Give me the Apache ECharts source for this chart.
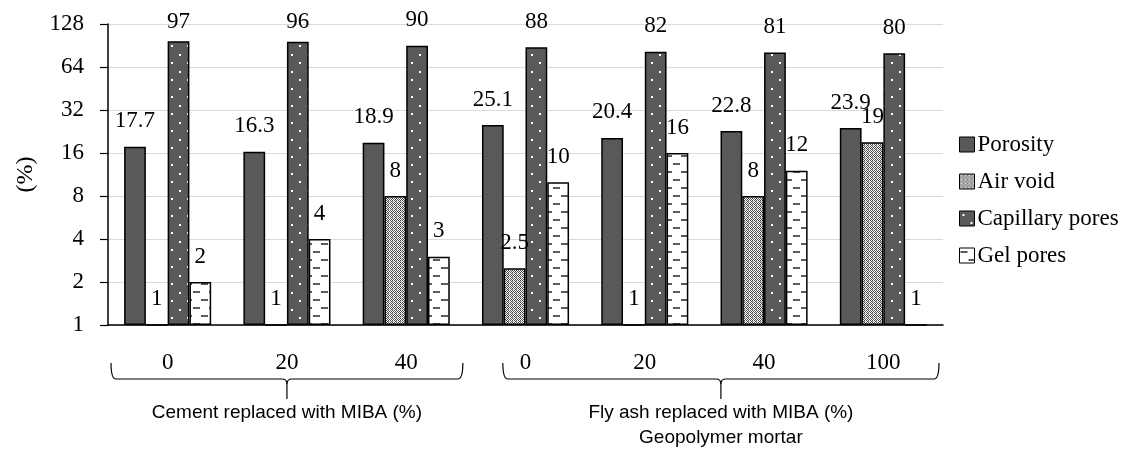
<!DOCTYPE html>
<html>
<head>
<meta charset="utf-8">
<script src="https://cdn.jsdelivr.net/npm/echarts@6/dist/echarts.min.js"></script>
<style>
  html, body { margin: 0; padding: 0; background: #fff; }
  #chart { width: 1146px; height: 450px; }
</style>
</head>
<body>
<div id="chart"></div>
<script>
// category labels (MIBA replacement %)
var categories = ['0', '20', '40', '0', '20', '40', '100']
var seriesNames = ['Porosity', 'Air void', 'Capillary pores', 'Gel pores']
var porosity = [17.7, 16.3, 18.9, 25.1, 20.4, 22.8, 23.9]
var airVoid = [1, 1, 8, 2.5, 1, 8, 19]
var capillary = [97, 96, 90, 88, 82, 81, 80]
var gelPores = [2, 4, 3, 10, 16, 12, 1]
var groupTitles = ['Cement replaced with MIBA (%)', 'Fly ash replaced with MIBA (%)', 'Geopolymer mortar']

var SERIF = '"Liberation Serif", "DejaVu Serif", serif'
var SANS = '"Liberation Sans", "Open Sans", sans-serif'
var DARK = '#595959'

// small tiled canvases for the hatch fills
function pattern(w, h, bg, draw) {
  var c = document.createElement('canvas')
  c.width = w
  c.height = h
  var ctx = c.getContext('2d')
  ctx.fillStyle = bg
  ctx.fillRect(0, 0, w, h)
  draw(ctx)
  return { image: c, repeat: 'repeat' }
}

var airFill = pattern(4, 4, '#ffffff', function (ctx) {
  ctx.fillStyle = '#4a4a4a'
  for (var y = 0; y < 4; y++) {
    for (var x = 0; x < 4; x++) {
      if ((x + y) % 2 === 0 && !(x === 1 && y === 1)) ctx.fillRect(x, y, 1, 1)
    }
  }
  ctx.fillStyle = '#b0b0b0'
  ctx.fillRect(1, 1, 1, 1)
  ctx.fillRect(0, 1, 1, 1)
})

var capFill = pattern(16, 17, DARK, function (ctx) {
  ctx.fillStyle = '#ffffff'
  ctx.fillRect(3, 3, 2, 2)
  ctx.fillRect(11, 11, 2, 2)
})

var gelFill = pattern(16, 16, '#ffffff', function (ctx) {
  ctx.fillStyle = '#5a5a5a'
  ctx.fillRect(1, 3, 7, 2)
  ctx.fillRect(9, 11, 7, 2)
})

function bar(name, values, fill) {
  return {
    name: name,
    type: 'bar',
    barGap: '0%',
    barCategoryGap: '27%',
    data: values.map(function (v) {
      // Excel pushes labels of the tallest bars down to stay inside the chart
      return { value: v, label: { distance: v >= 95 ? 8 : 14 } }
    }),
    itemStyle: { color: fill, borderColor: '#000', borderWidth: 1.5 },
    label: {
      show: true,
      position: 'top',
      color: '#000',
      fontFamily: SERIF,
      fontSize: 23
    }
  }
}

var chartDom = document.getElementById('chart')
var myChart = echarts.init(chartDom)
var option = {
  animation: false,
  grid: { left: 108, right: 203, top: 24, bottom: 125, containLabel: false, outerBoundsMode: 'none' },
  legend: {
    orient: 'vertical',
    left: 954,
    top: 128,
    itemWidth: 15,
    itemHeight: 15,
    itemGap: 14,
    icon: 'rect',
    data: seriesNames,
    itemStyle: { borderColor: '#000', borderWidth: 1 },
    textStyle: { color: '#000', fontFamily: SERIF, fontSize: 23, padding: [0, 0, 0, -2] }
  },
  xAxis: {
    type: 'category',
    data: categories,
    axisLine: { lineStyle: { color: '#000', width: 1.5 } },
    axisTick: { length: 8, lineStyle: { color: '#000', width: 1.2 } },
    axisLabel: { color: '#000', fontFamily: SERIF, fontSize: 23, margin: 26 }
  },
  yAxis: {
    type: 'log',
    logBase: 2,
    min: 1,
    max: 128,
    name: '(%)',
    nameLocation: 'middle',
    nameRotate: 90,
    nameGap: 70,
    nameTextStyle: { color: '#000', fontFamily: SERIF, fontSize: 24 },
    axisLine: { show: true, lineStyle: { color: '#000', width: 1.5 } },
    axisTick: { show: true, length: 8, lineStyle: { color: '#000', width: 1.2 } },
    axisLabel: { color: '#000', fontFamily: SERIF, fontSize: 23, margin: 24 },
    splitLine: { lineStyle: { color: '#d9d9d9', width: 1.2 } }
  },
  series: [
    bar(seriesNames[0], porosity, DARK),
    bar(seriesNames[1], airVoid, airFill),
    bar(seriesNames[2], capillary, capFill),
    bar(seriesNames[3], gelPores, gelFill)
  ]
}
myChart.setOption(option)

// curly braces under the two groups of categories
function px(i) { return myChart.convertToPixel({ xAxisIndex: 0 }, i) }
var step = px(1) - px(0)
var y0 = 363, y1 = 379, y2 = 399, r = 5
function brace(xa, xb) {
  var xm = (xa + xb) / 2
  var st = { stroke: '#000', lineWidth: 1.2, fill: null }
  return [
    { type: 'bezierCurve', shape: { x1: xa, y1: y0, x2: xa + r, y2: y1, cpx1: xa, cpy1: y1 }, style: st },
    { type: 'line', shape: { x1: xa + r, y1: y1, x2: xm - r, y2: y1 }, style: st },
    { type: 'bezierCurve', shape: { x1: xm - r, y1: y1, x2: xm, y2: y1 + r, cpx1: xm, cpy1: y1 }, style: st },
    { type: 'bezierCurve', shape: { x1: xm + r, y1: y1, x2: xm, y2: y1 + r, cpx1: xm, cpy1: y1 }, style: st },
    { type: 'line', shape: { x1: xm, y1: y1 + r, x2: xm, y2: y2 }, style: st },
    { type: 'line', shape: { x1: xm + r, y1: y1, x2: xb - r, y2: y1 }, style: st },
    { type: 'bezierCurve', shape: { x1: xb - r, y1: y1, x2: xb, y2: y0, cpx1: xb, cpy1: y1 }, style: st }
  ]
}
function caption(text, x, y) {
  return {
    type: 'text', x: x, y: y,
    style: { text: text, fill: '#000', font: '19px ' + SANS, align: 'center', verticalAlign: 'middle', textAlign: 'center', textVerticalAlign: 'middle' }
  }
}
var a1 = px(0) - step / 2 + 3, b1 = px(2) + step / 2 - 3
var a2 = px(3) - step * 0.19, b2 = px(6) + step / 2 - 4
var elems = brace(a1, b1).concat(brace(a2, b2))
elems.push(caption(groupTitles[0], (a1 + b1) / 2, 413))
elems.push(caption(groupTitles[1], (a2 + b2) / 2, 413))
elems.push(caption(groupTitles[2], (a2 + b2) / 2, 438))
myChart.setOption({ graphic: { elements: elems } })

window.addEventListener('resize', function () {
  myChart.resize()
})
</script>
</body>
</html>
